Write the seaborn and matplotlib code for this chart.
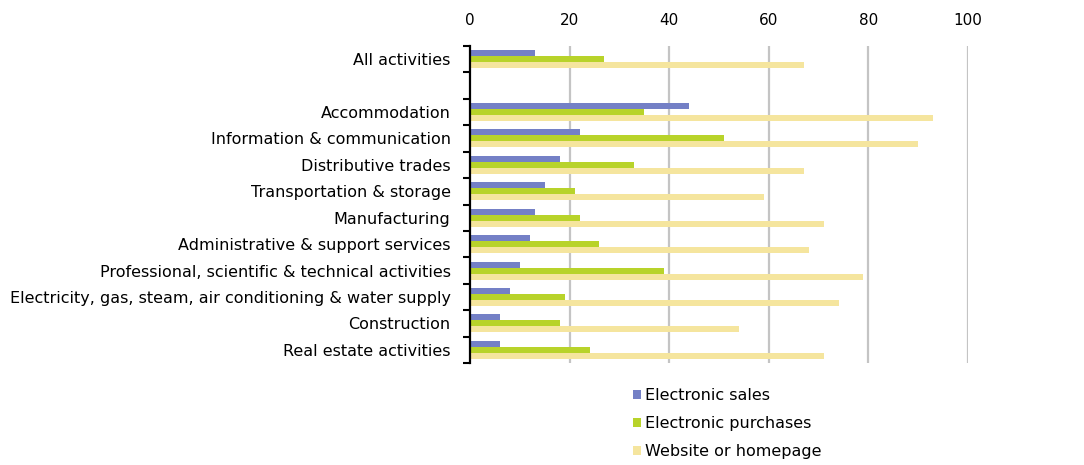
import matplotlib
matplotlib.use("Agg")
import matplotlib.pyplot as plt
from matplotlib.patches import Patch
import seaborn as sns
import pandas as pd

# Share of enterprises (%) by activity
activities = [
    "All activities",
    "Accommodation",
    "Information & communication",
    "Distributive trades",
    "Transportation & storage",
    "Manufacturing",
    "Administrative & support services",
    "Professional, scientific & technical activities",
    "Electricity, gas, steam, air conditioning & water supply",
    "Construction",
    "Real estate activities",
]
electronic_sales = [13, 44, 22, 18, 15, 13, 12, 10, 8, 6, 6]
electronic_purchases = [27, 35, 51, 33, 21, 22, 26, 39, 19, 18, 24]
website = [67, 93, 90, 67, 59, 71, 68, 79, 74, 54, 71]

series_names = ["Electronic sales", "Electronic purchases", "Website or homepage"]
series_colors = ["#7480c6", "#b8d32a", "#f5e59e"]
x_ticks = [0, 20, 40, 60, 80, 100]

# blank row separates the total from the individual activities
row_order = [activities[0], " "] + activities[1:]

df = pd.DataFrame({
    "activity": activities * 3,
    "value": electronic_sales + electronic_purchases + website,
    "series": [s for s in series_names for _ in activities],
})

sns.set_theme(style="white")
plt.rcParams["font.family"] = ["DejaVu Sans"]
plt.rcParams["text.color"] = "black"
plt.rcParams["xtick.color"] = "black"
plt.rcParams["ytick.color"] = "black"

fig = plt.figure(figsize=(10.84, 4.65), dpi=100)
ax = fig.add_axes([470 / 1084, 1 - 363 / 465, (968 - 470) / 1084, (363 - 46) / 465])

sns.barplot(
    data=df, x="value", y="activity", hue="series",
    order=row_order, hue_order=series_names, palette=series_colors,
    orient="h", width=0.68, gap=0, saturation=1, ax=ax, legend=False,
    edgecolor="none",
)

ax.set_xlim(0, 100)
ax.set_ylim(len(row_order) - 0.5, -0.5)
ax.set_xlabel("")
ax.set_ylabel("")

ax.xaxis.tick_top()
ax.set_xticks(x_ticks)
ax.set_xticklabels([str(t) for t in x_ticks], fontsize=11)
ax.tick_params(axis="x", length=0, pad=13)
for t in x_ticks[1:]:
    ax.axvline(t, color="#c4c4c4", lw=1.6, zorder=0)

ax.set_yticks(range(len(row_order)))
ax.set_yticklabels(row_order, fontsize=11.5)
ax.set_yticks([i - 0.5 for i in range(len(row_order) + 1)], minor=True)
ax.tick_params(axis="y", which="major", length=0, pad=14)
ax.tick_params(axis="y", which="minor", length=5, width=1.5, color="black", left=True)

for side in ["top", "right", "bottom"]:
    ax.spines[side].set_visible(False)
ax.spines["left"].set_color("black")
ax.spines["left"].set_linewidth(1.6)

handles = [Patch(facecolor=c, edgecolor="none") for c in series_colors]
fig.legend(
    handles, series_names, loc="upper left",
    bbox_to_anchor=(622 / 1084, 1 - 377 / 465),
    frameon=False, handlelength=0.5, handleheight=0.5, handletextpad=0.25,
    labelspacing=0.8, borderpad=0.2, prop={"family": "DejaVu Sans", "size": 11.5},
)

fig.savefig("out.png", dpi=100)
